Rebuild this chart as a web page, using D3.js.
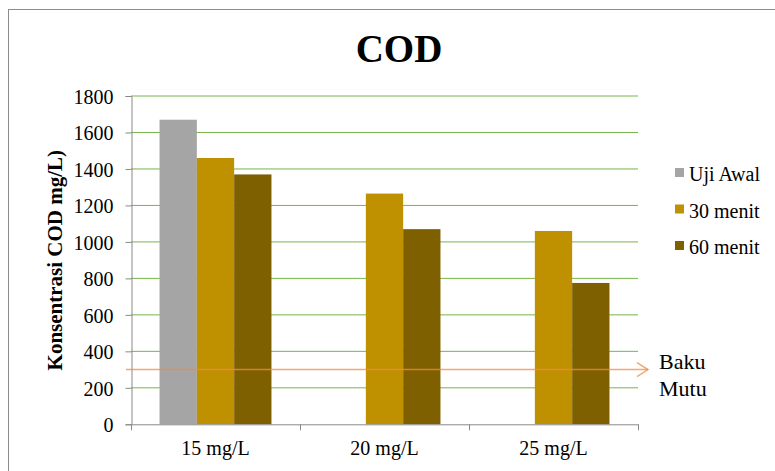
<!DOCTYPE html>
<html>
<head>
<meta charset="utf-8">
<script src="https://cdn.jsdelivr.net/npm/d3@7"></script>
<style>
  html, body { margin: 0; padding: 0; background: #fff; }
  svg { display: block; }
  svg text { font-family: "Liberation Serif", "Times New Roman", serif !important; }
</style>
</head>
<body>
<svg id="chart" width="775" height="471"></svg>
<script>
// Concentration groups on the x axis
const categories = ["15 mg/L", "20 mg/L", "25 mg/L"];
// Series names (legend order)
const seriesNames = ["Uji Awal", "30 menit", "60 menit"];
const seriesColors = ["#A5A5A5", "#BF9000", "#7F6000"];
// COD values (mg/L); null = no measurement
const ujiAwal = [1670, null, null];
const menit30 = [1460, 1265, 1060];
const menit60 = [1370, 1070, 775];
// Y tick labels
const yTicks = [0, 200, 400, 600, 800, 1000, 1200, 1400, 1600, 1800];
// Quality standard threshold
const bakuMutu = 300;

const seriesValues = [ujiAwal, menit30, menit60];

const svg = d3.select("#chart");

// outer chart frame
svg.append("rect")
  .attr("x", 8.5).attr("y", 9.5)
  .attr("width", 900).attr("height", 600)
  .attr("fill", "#fff")
  .attr("stroke", "#8C8C8C").attr("stroke-width", 1);

const plot = { left: 131, right: 638, top: 96, bottom: 424.3 };

const y = d3.scaleLinear().domain([0, 1800]).range([plot.bottom, plot.top]);
const x0 = d3.scaleBand().domain(categories).range([plot.left, plot.right]).paddingInner(0).paddingOuter(0);
const x1 = d3.scaleBand().domain(seriesNames).range([0, x0.bandwidth()]).paddingInner(0).paddingOuter(0.765);

// title
svg.append("text")
  .attr("x", 399).attr("y", 62)
  .attr("text-anchor", "middle")
  .attr("font-weight", "bold")
  .attr("font-size", 39)
  .attr("fill", "#000")
  .text("COD");

// horizontal gridlines
svg.append("g")
  .selectAll("line")
  .data(yTicks.filter(d => d > 0))
  .join("line")
  .attr("x1", plot.left).attr("x2", plot.right)
  .attr("y1", d => y(d)).attr("y2", d => y(d))
  .attr("stroke", "#77B548").attr("stroke-width", 1);

// bars
const groups = svg.append("g")
  .selectAll("g")
  .data(categories)
  .join("g")
  .attr("transform", d => `translate(${x0(d)},0)`);

groups.selectAll("rect")
  .data((c, ci) => seriesNames.map((s, si) => ({ s, si, v: seriesValues[si][ci] })).filter(d => d.v != null))
  .join("rect")
  .attr("x", d => x1(d.s))
  .attr("width", x1.bandwidth())
  .attr("y", d => y(d.v))
  .attr("height", d => y(0) - y(d.v))
  .attr("fill", d => seriesColors[d.si]);

// y axis
const yAxis = d3.axisLeft(y).tickValues(yTicks).tickSize(6).tickPadding(12).tickFormat(d3.format("d"));
const gy = svg.append("g").attr("transform", `translate(${plot.left + 0.5},0)`).call(yAxis);
gy.attr("font-family", null);
gy.select(".domain").attr("stroke", "#898989");
gy.selectAll(".tick line").attr("stroke", "#898989");
gy.selectAll(".tick text")
  .attr("font-size", 20).attr("fill", "#000")
  .attr("dy", "0.36em");

// x axis
const xAxis = d3.axisBottom(x0).tickSize(0).tickPadding(0);
const gx = svg.append("g").attr("transform", `translate(0,${plot.bottom})`).call(xAxis);
gx.attr("font-family", null);
gx.select(".domain").attr("stroke", "#898989");
gx.selectAll(".tick text")
  .attr("font-size", 20).attr("fill", "#000")
  .attr("y", 31).attr("dy", 0);
// category boundary ticks
const bounds = categories.map(c => x0(c)).concat([x0.range()[1]]);
svg.append("g")
  .selectAll("line")
  .data(bounds)
  .join("line")
  .attr("x1", d => Math.round(d) + 0.5).attr("x2", d => Math.round(d) + 0.5)
  .attr("y1", plot.bottom).attr("y2", plot.bottom + 6)
  .attr("stroke", "#898989");

// y axis title
svg.append("text")
  .attr("transform", `translate(61.5,${(plot.top + plot.bottom) / 2}) rotate(-90)`)
  .attr("text-anchor", "middle")
  .attr("font-weight", "bold")
  .attr("font-size", 21)
  .attr("fill", "#000")
  .text("Konsentrasi COD mg/L)");

// Baku Mutu reference line with open arrowhead
const yb = y(bakuMutu);
const lineEnd = 648;
const baku = svg.append("g").attr("stroke", "#F08A45").attr("stroke-opacity", 0.75)
  .attr("stroke-width", 1.5).attr("fill", "none");
baku.append("line")
  .attr("x1", 126).attr("x2", lineEnd)
  .attr("y1", yb).attr("y2", yb);
baku.append("path")
  .attr("d", `M${lineEnd - 11},${yb - 7}L${lineEnd},${yb}L${lineEnd - 11},${yb + 7}`);

svg.append("text")
  .attr("x", 659).attr("y", yb - 1)
  .attr("font-size", 22).attr("fill", "#000")
  .text("Baku");
svg.append("text")
  .attr("x", 659).attr("y", yb + 26)
  .attr("font-size", 22).attr("fill", "#000")
  .text("Mutu");

// legend
const legend = svg.append("g")
  .selectAll("g")
  .data(seriesNames)
  .join("g")
  .attr("transform", (d, i) => `translate(675,${168 + i * 36.5})`);
legend.append("rect")
  .attr("width", 9).attr("height", 9)
  .attr("fill", (d, i) => seriesColors[i]);
legend.append("text")
  .attr("x", 14).attr("y", 13)
  .attr("font-size", 20).attr("fill", "#000")
  .text(d => d);
</script>
</body>
</html>
